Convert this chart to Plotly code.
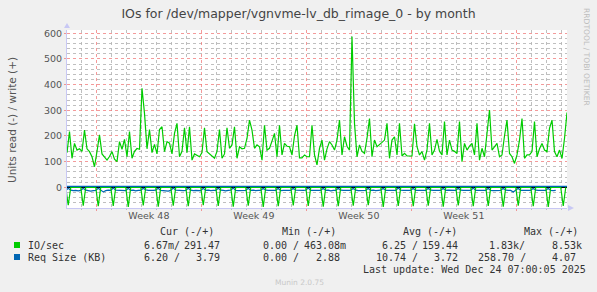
import pandas as pd
import plotly.graph_objects as go

# ---------------- data ----------------
# write IO/s (positive), 4-hour samples starting 2025-11-22 01:00
write_io = [
    135, 217, 113, 171, 145, 150, 140, 223, 150, 139,
    119, 80, 140, 204, 130, 119, 106, 120, 139, 110,
    100, 178, 148, 187, 119, 217, 113, 140, 151, 148,
    386, 288, 150, 225, 135, 167, 130, 225, 236, 139,
    178, 172, 130, 210, 249, 119, 140, 232, 135, 236,
    106, 130, 125, 119, 135, 232, 139, 130, 125, 113,
    140, 225, 113, 130, 232, 152, 165, 236, 113, 158,
    150, 152, 191, 262, 223, 152, 165, 158, 106, 242,
    145, 152, 180, 210, 119, 242, 126, 171, 160, 158,
    126, 200, 242, 115, 115, 126, 119, 119, 242, 126,
    87, 152, 184, 106, 150, 178, 165, 145, 184, 262,
    126, 197, 160, 145, 587, 249, 119, 165, 140, 132,
    191, 268, 119, 184, 158, 165, 175, 184, 249, 113,
    184, 197, 126, 249, 122, 132, 122, 122, 122, 247,
    158, 126, 139, 106, 145, 249, 126, 145, 187, 140,
    126, 256, 126, 184, 145, 140, 132, 256, 100, 171,
    145, 160, 171, 126, 249, 106, 152, 119, 200, 301,
    145, 160, 171, 119, 126, 200, 262, 132, 119, 93,
    126, 184, 268, 113, 126, 126, 139, 256, 119, 150,
    171, 145, 139, 230, 262, 139, 119, 145, 113, 190,
    291,
]

# read IO/s (drawn negative), 4-hour samples starting 2025-11-21 23:00
read_io = [
    0, -70, 0, 0, 0, 0, 0, -72, 0, 0, 0, 0, 0, -74, 0, 0, 0, 0,
    0, -73, 0, 0, 0, 0, 0, -76, 0, 0, 0, 0, 0, -71, 0, 0, 0, 0,
    0, -75, 0, 0, 0, 0, 0, -72, 0, 0, 0, 0, 0, -74, 0, 0, 0, 0,
    0, -70, 0, 0, 0, 0, 0, -73, 0, 0, 0, 0, 0, -75, 0, 0, 0, 0,
    0, -72, 0, 0, 0, 0, 0, -76, 0, 0, 0, 0, 0, -74, 0, 0, 0, 0,
    0, -71, 0, 0, 0, 0, 0, -73, 0, 0, 0, 0, 0, -75, 0, 0, 0, 0,
    0, -74, 0, 0, 0, 0, 0, -72, 0, 0, 0, 0, 0, -70, 0, 0, 0, 0,
    0, -76, 0, 0, 0, 0, 0, -73, 0, 0, 0, 0, 0, -74, 0, 0, 0, 0,
    0, -72, 0, 0, 0, 0, 0, -75, 0, 0, 0, 0, 0, -71, 0, 0, 0, 0,
    0, -74, 0, 0, 0, 0, 0, -73, 0, 0, 0, 0, 0, -75, 0, 0, 0, 0,
    0, -72, 0, 0, 0, 0, 0, -74, 0, 0, 0, 0, 0, -76, 0, 0, 0, 0,
    0, -73, 0,
]

# read request size KB (drawn negative), same grid as read_io
read_req = [
    -12, -4, -11, -13, -12, -14, -12, -4, -11, -12, -15, -13,
    -12, -4, -12, -18, -13, -11, -12, -3, -11, -12, -13, -12,
    -13, -4, -12, -11, -14, -12, -12, -4, -10, -12, -13, -12,
    -11, -4, -12, -13, -12, -15, -12, -3, -11, -12, -12, -13,
    -12, -4, -11, -13, -12, -12, -13, -4, -12, -11, -13, -12,
    -12, -4, -11, -12, -14, -12, -11, -3, -12, -13, -12, -11,
    -12, -4, -12, -11, -13, -12, -12, -4, -11, -12, -12, -13,
    -12, -4, -13, -12, -11, -12, -12, -4, -11, -12, -13, -12,
    -11, -3, -12, -12, -13, -12, -12, -4, -12, -11, -14, -12,
    -12, -4, -11, -12, -12, -13, -12, -4, -11, -13, -12, -12,
    -12, -4, -12, -11, -13, -12, -11, -4, -12, -12, -12, -11,
    -12, -3, -11, -12, -13, -12, -12, -4, -12, -13, -12, -12,
    -12, -4, -11, -12, -12, -13, -12, -4, -12, -11, -12, -12,
    -12, -4, -11, -12, -13, -12, -12, -3, -12, -12, -11, -12,
    -12, -4, -12, -13, -12, -12, -12, -4, -11, -12, -12, -18,
    -12, -4, -12, -12, -13, -12, -12, -4, -11, -12, -12, -12,
    -12, -4, -12, -13, -12,
]

# write request size KB (positive), daily samples starting 2025-11-22 00:00
write_req = [3.8, 3.7, 3.7, 3.8, 3.6, 3.7, 3.8, 3.7, 3.7, 3.9, 3.7, 3.6,
             3.7, 3.8, 3.7, 3.7, 3.8, 3.6, 3.7, 3.7, 3.8, 3.7, 3.6, 3.7,
             3.8, 3.7, 3.7, 3.8, 3.7, 3.6, 3.7, 3.8, 3.7, 3.8, 3.8]

week_labels = ["Week 48", "Week 49", "Week 50", "Week 51"]
week_mid = ["2025-11-27 12:00", "2025-12-04 12:00", "2025-12-11 12:00", "2025-12-18 12:00"]

legend_rows = [
    ("IO/sec", "#00CC00", [("6.67m/", "291.47"), ("0.00 /", "463.08m"), ("6.25 /", "159.44"), ("1.83k/", "8.53k")]),
    ("Req Size (KB)", "#0066B3", [("6.20 /", "3.79"), ("0.00 /", "2.88"), ("10.74 /", "3.72"), ("258.70 /", "4.07")]),
]

# ---------------- geometry ----------------
W, H = 597, 292
PL, PR, PT, PB = 67, 567, 30, 208
T0 = pd.Timestamp("2025-11-22 01:00")
T1 = T0 + pd.Timedelta(hours=800)

t_write = pd.date_range(T0, periods=len(write_io), freq="4h")
t_read = pd.date_range(pd.Timestamp("2025-11-21 23:00"), periods=len(read_io), freq="4h")
t_read2 = pd.date_range(pd.Timestamp("2025-11-21 23:00"), periods=len(read_req), freq="4h")
t_wreq = pd.date_range(pd.Timestamp("2025-11-22 00:00"), periods=len(write_req), freq="1D")

GREEN = "#00CC00"
BLUE = "#0066B3"

fig = go.Figure()
fig.add_trace(go.Scatter(x=t_read2, y=read_req, mode="lines", line=dict(color=BLUE, width=1.2), hoverinfo="skip"))
fig.add_trace(go.Scatter(x=t_read, y=read_io, mode="lines", line=dict(color=GREEN, width=1.2), hoverinfo="skip"))
fig.add_trace(go.Scatter(x=t_write, y=write_io, mode="lines", line=dict(color=GREEN, width=1.2), hoverinfo="skip"))
fig.add_trace(go.Scatter(x=t_wreq, y=write_req, mode="lines", line=dict(color=BLUE, width=1.2),
                         hoverinfo="skip", xaxis="x2"))

y_lo = -(PB - 187.3) / 0.25667
y_hi = (187.3 - PT) / 0.25667

RED_GRID = "rgba(240,120,120,0.75)"
GRAY_GRID = "rgba(180,180,180,0.85)"
AXIS = "#c8c8f4"
TICKFONT = dict(family="DejaVu Sans", size=9.5, color="#555555")

fig.update_layout(
    width=W, height=H,
    margin=dict(l=PL, r=W - PR, t=PT, b=H - PB),
    paper_bgcolor="#F0F0F0", plot_bgcolor="#FFFFFF",
    showlegend=False,
    title=dict(text="IOs for /dev/mapper/vgnvme-lv_db_rimage_0 - by month",
               x=0.5, xanchor="center", y=1 - 14 / H, yanchor="middle",
               font=dict(family="DejaVu Sans", size=12.5, color="#444444")),
    xaxis=dict(type="date", range=[T0, T1], showticklabels=False,
               tick0="2025-11-24", dtick=7 * 86400000,
               showgrid=True, gridcolor=RED_GRID, griddash="dot", gridwidth=1,
               ticks="outside", ticklen=2, tickcolor=RED_GRID,
               minor=dict(dtick=86400000, tick0="2025-11-24", showgrid=True,
                          gridcolor=GRAY_GRID, griddash="dot", gridwidth=1,
                          ticks="outside", ticklen=1, tickcolor=GRAY_GRID),
               showline=True, linecolor=AXIS, linewidth=1, zeroline=False, fixedrange=True),
    xaxis2=dict(type="date", range=[T0, T1], overlaying="x", side="bottom", anchor="y",
                tickmode="array", tickvals=week_mid, ticktext=week_labels,
                showgrid=False, showline=False, ticks="", tickfont=TICKFONT, zeroline=False),
    yaxis=dict(range=[y_lo, y_hi], tick0=0, dtick=100,
               showgrid=True, gridcolor=RED_GRID, griddash="dot", gridwidth=1,
               minor=dict(dtick=20, tick0=0, showgrid=True, gridcolor=GRAY_GRID,
                          griddash="dot", gridwidth=1),
               ticks="outside", ticklen=2, tickcolor=RED_GRID,
               tickfont=TICKFONT,
               zeroline=True, zerolinecolor="#000000", zerolinewidth=1.5,
               showline=True, linecolor=AXIS, linewidth=1),
)

# axis arrows
fig.add_shape(type="path", xref="paper", yref="paper",
              xsizemode="pixel", ysizemode="pixel", xanchor=0, yanchor=1,
              path="M -3,2 L 3,2 L 0,7 Z", fillcolor=AXIS, line=dict(width=0))
fig.add_shape(type="path", xref="paper", yref="paper",
              xsizemode="pixel", ysizemode="pixel", xanchor=1, yanchor=0,
              path="M 1,-3 L 1,3 L 7,0 Z", fillcolor=AXIS, line=dict(width=0))


def px(xp):
    return (xp - PL) / (PR - PL)


def py(yp):
    return (PB - yp) / (PB - PT)


MONO = dict(family="DejaVu Sans Mono", size=10, color="#333333")
NB = "\u00a0"


def text(x, y, s, font=MONO, anchor="left"):
    fig.add_annotation(x=px(x), y=py(y), xref="paper", yref="paper", text=s.replace(" ", NB),
                       showarrow=False, xanchor=anchor, yanchor="middle", font=font,
                       borderpad=0, align="left")


# y-axis title
fig.add_annotation(x=px(12), y=py(120), xref="paper", yref="paper", text="Units read (-) / write (+)",
                   showarrow=False, textangle=-90, xanchor="center", yanchor="middle",
                   font=dict(family="DejaVu Sans", size=10.5, color="#555555"))

# legend header
for xl, h in zip([159.3, 281, 401.7, 522.7], ["Cur (-/+)", "Min (-/+)", "Avg (-/+)", "Max (-/+)"]):
    text(xl, 231, h)

left_pos = [[143.3, 261.7, 381, 488.3], [143.3, 261.7, 375, 476.7]]
right_end = [[221, 346.7, 459.3, 582.7], [221, 340.7, 459.3, 576.7]]
row_y = [245, 257]
for r, (label, col, cells) in enumerate(legend_rows):
    fig.add_shape(type="rect", xref="paper", yref="paper",
                  x0=px(14), x1=px(20), y0=py(row_y[r] - 3), y1=py(row_y[r] + 3),
                  fillcolor=col, line=dict(width=0))
    text(26.7, row_y[r], label)
    for c, (a, b) in enumerate(cells):
        text(left_pos[r][c], row_y[r], a)
        text(right_end[r][c], row_y[r], b, anchor="right")

text(361.7, 269, "Last update: Wed Dec 24 07:00:05 2025")
text(299, 282, "Munin 2.0.75", font=dict(family="DejaVu Sans", size=7.5, color="#c8c8c8"), anchor="center")

fig.add_annotation(x=px(587), y=py(57), xref="paper", yref="paper", text="RRDTOOL / TOBI OETIKER",
                   showarrow=False, textangle=90, xanchor="center", yanchor="middle",
                   font=dict(family="DejaVu Sans", size=7.6, color="#bdbdbd"))

fig.write_html("out.html")
